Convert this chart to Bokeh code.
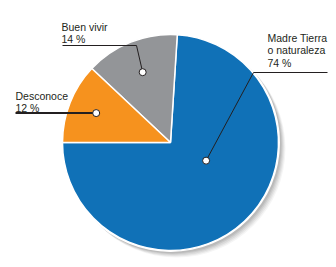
import math
from bokeh.plotting import figure
from bokeh.models import Range1d
from bokeh.core.properties import value
from bokeh.embed import file_html
from bokeh.resources import INLINE

# Survey shares
categories = ["Madre Tierra\no naturaleza", "Buen vivir", "Desconoce"]
shares = [74, 14, 12]
colors = ["#1071b7", "#939598", "#f6921e"]

W, H = 336, 267
CX, CY, R = 170, 125, 108          # pie centre / radius in canvas units
START = math.pi                    # first slice begins at 9 o'clock, anticlockwise

p = figure(width=W, height=H, output_backend="svg", toolbar_location=None,
           x_range=Range1d(0, W), y_range=Range1d(0, H),
           min_border=0, outline_line_color=None, background_fill_color="white")
p.axis.visible = False
p.grid.visible = False

# soft drop shadow towards the lower right
for k, a in [(6, 0.04), (5, 0.05), (4, 0.06), (3, 0.07), (2, 0.08)]:
    p.circle(x=CX + k, y=CY - k, radius=R + 1, fill_color="#000000",
             fill_alpha=a, line_color=None)
p.circle(x=CX, y=CY, radius=R + 1.5, fill_color="white", line_color=None)

# wedges
total = sum(shares)
starts, ends, mids = [], [], []
acc = START
for s in shares:
    a = 2 * math.pi * s / total
    starts.append(acc)
    ends.append(acc + a)
    mids.append(acc + a / 2)
    acc += a
p.wedge(x=CX, y=CY, radius=R, start_angle=starts, end_angle=ends,
        fill_color=colors, line_color="white", line_width=1.5)

# callout anchors (polar, relative to centre) and leader elbows
anchor_polar = [(math.radians(333), 0.37), (mids[1], 0.70), (mids[2], 0.74)]
anchors = [(CX + f * R * math.cos(t), CY + f * R * math.sin(t)) for t, f in anchor_polar]
elbows = [[(253, 195), (327, 195)],
          [(136, 222), (62, 222)],
          [(15, None)]]
text_pos = [(267, 230), (61, 241), (15, 172)]
line_widths = [1, 1, 2]

tx, ty, tt = [], [], []
for i, (ax, ay) in enumerate(anchors):
    xs, ys = [ax], [ay]
    for ex, ey in elbows[i]:
        xs.append(ex)
        ys.append(ay if ey is None else ey)
    p.line(xs, ys, line_color="#231f20", line_width=line_widths[i])
    label = categories[i].split("\n") + [f"{shares[i]} %"]
    for j, ln in enumerate(label):
        tx.append(text_pos[i][0])
        ty.append(text_pos[i][1] - 12.5 * j)
        tt.append(ln)

p.scatter(x=[a[0] for a in anchors], y=[a[1] for a in anchors], size=7,
          fill_color="white", line_color="#231f20", line_width=1)

p.text(x=tx, y=ty, text=tt, text_font=value("Liberation Sans"),
       text_font_size="10.5px", text_color="#231f20", text_baseline="alphabetic")

open("out.html", "w").write(file_html(p, INLINE))
